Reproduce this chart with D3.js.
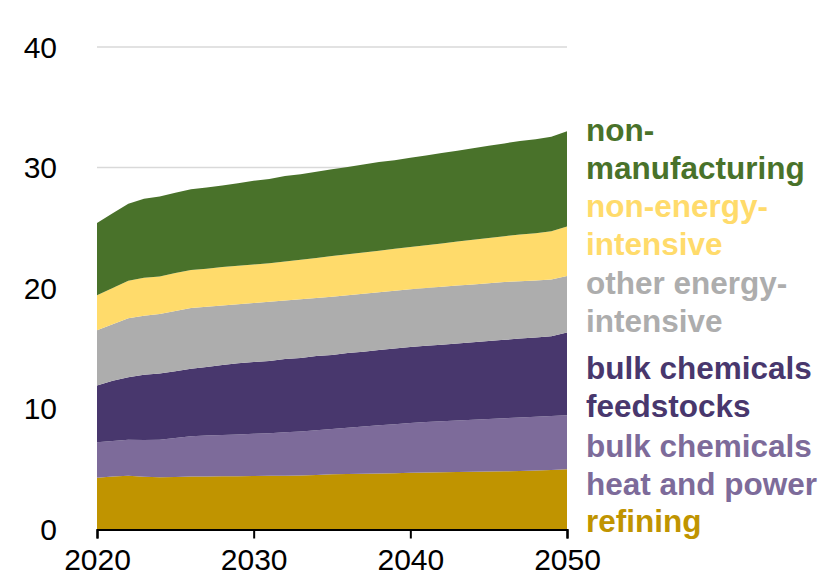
<!DOCTYPE html>
<html>
<head>
<meta charset="utf-8">
<script src="https://cdn.jsdelivr.net/npm/d3@7"></script>
<style>
  html, body { margin: 0; padding: 0; background: #fff; }
  svg { display: block; }
  text { font-family: "Liberation Sans", Arial, sans-serif; }
</style>
</head>
<body>
<svg id="chart" width="825" height="575"></svg>
<script>
const years = d3.range(2020, 2051);
const refining = [4.26,4.35,4.42,4.33,4.30,4.32,4.35,4.36,4.37,4.38,4.39,4.41,4.42,4.44,4.49,4.54,4.56,4.58,4.60,4.63,4.67,4.69,4.71,4.73,4.75,4.77,4.79,4.81,4.85,4.90,4.95];
const heatPower = [2.94,2.95,2.98,3.05,3.10,3.23,3.35,3.39,3.43,3.47,3.51,3.54,3.60,3.66,3.71,3.76,3.84,3.92,4.00,4.07,4.13,4.18,4.23,4.27,4.32,4.36,4.41,4.45,4.47,4.48,4.50];
const feedstocks = [4.70,5.00,5.20,5.42,5.50,5.55,5.60,5.70,5.80,5.90,5.95,6.00,6.08,6.10,6.15,6.15,6.20,6.20,6.25,6.27,6.30,6.33,6.36,6.40,6.43,6.47,6.50,6.54,6.58,6.62,6.85];
const otherEI = [4.60,4.70,4.90,4.90,4.95,5.00,5.05,5.00,4.95,4.90,4.90,4.90,4.87,4.87,4.82,4.82,4.80,4.82,4.80,4.80,4.80,4.80,4.80,4.80,4.80,4.80,4.80,4.77,4.73,4.70,4.70];
const nonEI = [2.90,3.00,3.10,3.15,3.10,3.15,3.15,3.15,3.20,3.20,3.20,3.20,3.23,3.28,3.33,3.38,3.40,3.43,3.45,3.48,3.50,3.55,3.60,3.65,3.70,3.75,3.80,3.88,3.92,4.00,4.10];
const nonManuf = [6.00,6.20,6.40,6.55,6.65,6.65,6.70,6.75,6.75,6.85,6.95,7.00,7.10,7.10,7.15,7.20,7.25,7.30,7.35,7.35,7.40,7.45,7.50,7.55,7.60,7.65,7.70,7.75,7.80,7.85,7.90];

const seriesKeys = ["refining","heatPower","feedstocks","otherEI","nonEI","nonManuf"];
const seriesColors = ["#c09400","#7d6b9a","#48376d","#adadad","#ffdb6b","#49722a"];
const seriesLabels = [["refining"],["bulk chemicals","heat and power"],["bulk chemicals","feedstocks"],["other energy-","intensive"],["non-energy-","intensive"],["non-","manufacturing"]];
const yTicks = [0,10,20,30,40];
const xTicks = [2020,2030,2040,2050];

const seriesData = {refining, heatPower, feedstocks, otherEI, nonEI, nonManuf};
const table = years.map((y,i) => {
  const row = {year: y};
  seriesKeys.forEach(k => row[k] = seriesData[k][i]);
  return row;
});

const svg = d3.select("#chart");
const x = d3.scaleLinear().domain([2020,2050]).range([97,567]);
const y = d3.scaleLinear().domain([0,40]).range([529,47]);

// gridlines
svg.append("g").selectAll("line").data(yTicks.filter(d=>d>0)).join("line")
  .attr("x1", x(2020)).attr("x2", x(2050))
  .attr("y1", d=>y(d)).attr("y2", d=>y(d))
  .attr("stroke","#d9d9d9").attr("stroke-width",1.5);

const stack = d3.stack().keys(seriesKeys);
const layers = stack(table);
const area = d3.area().x(d=>x(d.data.year)).y0(d=>y(d[0])).y1(d=>y(d[1]));
svg.append("g").selectAll("path").data(layers).join("path")
  .attr("d", area).attr("fill",(d,i)=>seriesColors[i]);

// y labels
svg.append("g").selectAll("text").data(yTicks).join("text")
  .attr("x", 57).attr("y", d=>y(d)).attr("dy","0.35em")
  .attr("text-anchor","end").attr("font-size",30).attr("fill","#000")
  .text(d=>d);

// x axis
const xAxis = d3.axisBottom(x).tickValues(xTicks).tickFormat(d3.format("d")).tickSize(9).tickPadding(10);
const gx = svg.append("g").attr("transform",`translate(0,${y(0)+0.5})`).call(xAxis);
gx.select(".domain").attr("stroke","#000").attr("stroke-width",2.2);
gx.selectAll(".tick line").attr("stroke","#000").attr("stroke-width",2);
gx.selectAll(".tick text").attr("font-size",30).attr("fill","#000").attr("font-family","Liberation Sans, Arial, sans-serif");

// labels
const labelY = [532, 457, 379, 294, 217, 141];
const lab = svg.append("g");
seriesLabels.forEach((lines,i) => {
  const t = lab.append("text").attr("x",586).attr("y",labelY[i]).attr("fill",seriesColors[i])
    .attr("font-size",31.5).attr("font-weight","bold");
  lines.forEach((l,j)=> t.append("tspan").attr("x",586).attr("dy", j===0?0:38).text(l));
});
</script>
</body>
</html>
